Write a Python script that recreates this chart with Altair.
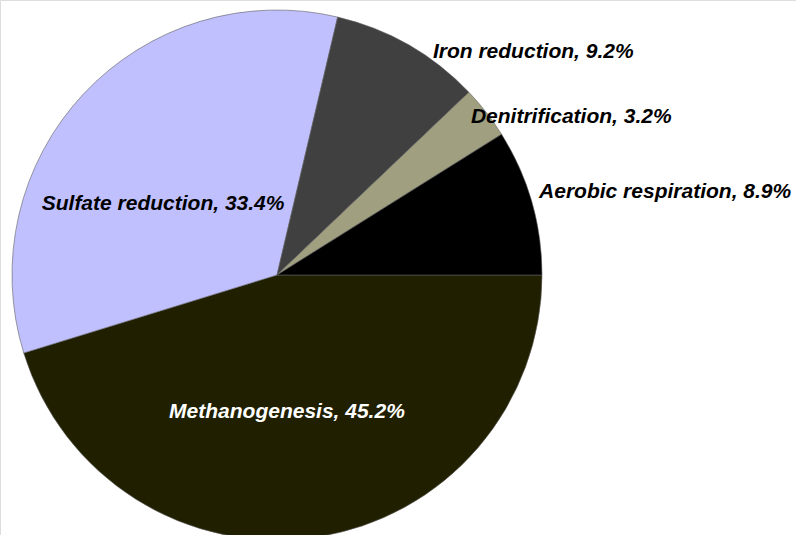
import math
import altair as alt
import pandas as pd

# Data (clockwise from 3 o'clock)
categories = ["Methanogenesis", "Sulfate reduction", "Iron reduction",
              "Denitrification", "Aerobic respiration"]
shares = [45.2, 33.4, 9.2, 3.2, 8.9]

# Styling
colors = ["#201f00", "#c0c0ff", "#404040", "#a09f80", "#000000"]
label_colors = ["#ffffff", "#000000", "#000000", "#000000", "#000000"]
label_radius = [137, 134, 340, 334, 397]       # px from centre
label_nudge_deg = [4.4, -11.3, 19.1, 9.6, 3.9]  # angle nudge from slice middle

CX, CY, R = 277, 275, 265
START = math.pi / 2

df = pd.DataFrame({
    "category": categories,
    "share": shares,
    "idx": list(range(len(categories))),
    "lcolor": label_colors,
    "lr": label_radius,
    "nudge": label_nudge_deg,
})
df["label"] = [f"{c}, {s:.1f}%" for c, s in zip(categories, shares)]

base = alt.Chart(df)

arcs = base.mark_arc(outerRadius=R, stroke="#606060", strokeWidth=0.6).encode(
    theta=alt.Theta("share:Q", stack=True,
                    scale=alt.Scale(range=[START, START + 2 * math.pi])),
    order=alt.Order("idx:Q"),
    color=alt.Color("category:N", scale=alt.Scale(domain=categories, range=colors),
                    legend=None),
    x=alt.value(CX),
    y=alt.value(CY),
)

labels = base.transform_window(
    cum="sum(share)", sort=[alt.SortField("idx")]
).transform_joinaggregate(
    total="sum(share)"
).transform_calculate(
    mid=f"(datum.cum - datum.share/2)/datum.total*2*PI + {START} + datum.nudge*PI/180"
).transform_calculate(
    lx=f"{CX} + datum.lr*sin(datum.mid)",
    ly=f"{CY} - datum.lr*cos(datum.mid)",
).mark_text(
    font="Liberation Sans", fontSize=21, fontWeight="bold", fontStyle="italic",
    align="center", baseline="middle"
).encode(
    x=alt.X("lx:Q", scale=None, axis=None),
    y=alt.Y("ly:Q", scale=None, axis=None),
    text="label:N",
    color=alt.Color("lcolor:N", scale=None),
)

chart = alt.layer(arcs, labels).properties(
    width=796, height=535, padding=0,
    autosize=alt.AutoSizeParams(type="none"),
).configure_view(strokeWidth=0, stroke="transparent").configure(background="white")

chart.save("out.html", embed_options={"renderer": "svg", "actions": False})
